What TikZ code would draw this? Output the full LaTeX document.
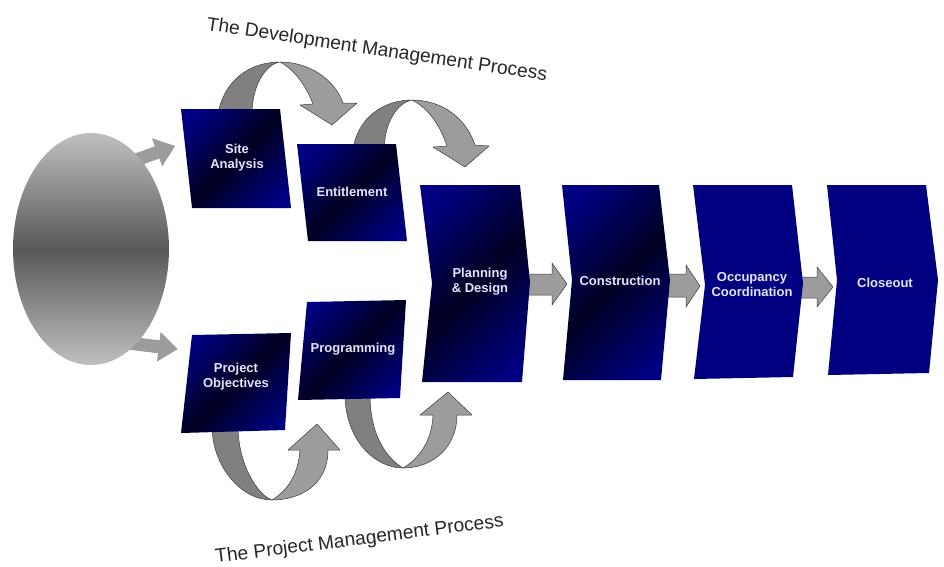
\documentclass[tikz,border=0pt]{standalone}
\usepackage{fontspec}
\setmainfont{Liberation Sans}
\usetikzlibrary{shapes.geometric}
\definecolor{navy}{RGB}{0,0,128}
\definecolor{darknavy}{RGB}{0,0,34}
\definecolor{boxtext}{RGB}{228,228,255}
\definecolor{arcback}{RGB}{128,128,128}
\definecolor{arcfront}{RGB}{156,156,156}
\definecolor{arcline}{RGB}{60,60,60}
\definecolor{ellout}{RGB}{192,192,192}
\definecolor{ellmid}{RGB}{88,88,88}
\pgfdeclareverticalshading{navyband}{100bp}{color(0bp)=(navy); color(22bp)=(navy); color(50bp)=(darknavy); color(78bp)=(navy); color(100bp)=(navy)}
\tikzset{
  boxtxt/.style={text=boxtext, font=\bfseries\fontsize{13}{15}\selectfont, align=center, inner sep=0pt},
  shadedbox/.style={shading=navyband, shading angle=45},
  flatbox/.style={fill=navy},
  arcB/.style={fill=arcback, draw=arcline, line width=0.5pt, line join=round},
  arcF/.style={fill=arcfront, draw=arcline, line width=0.5pt, line join=round},
  blockarrow/.style={fill=arcfront, draw=arcline, line width=0.5pt, line join=miter},
  smallarrow/.style={fill=arcfront},
  titletxt/.style={font=\fontsize{19.2}{21}\selectfont, text=black!85, inner sep=0pt}
}
\begin{document}
\begin{tikzpicture}[x=1pt,y=-1pt]
\useasboundingbox (0,0) rectangle (944,566);

% small arrows from ellipse
\begin{scope}[shift={(128,163)},rotate=20]
  \fill[smallarrow] (0,-6.5) -- (31,-6.5) -- (31,-15) -- (50,0) -- (31,15) -- (31,6.5) -- (0,6.5) -- cycle;
\end{scope}
\begin{scope}[shift={(128,343)},rotate=-7]
  \fill[smallarrow] (0,-6.5) -- (31,-6.5) -- (31,-15) -- (50,0) -- (31,15) -- (31,6.5) -- (0,6.5) -- cycle;
\end{scope}

% ellipse
\node[ellipse, minimum width=156pt, minimum height=232pt, inner sep=0pt,
      top color=ellout, bottom color=ellout, middle color=ellmid] (src) at (91,249) {};

% curved arrows (top)
\draw[arcB] (218,114) .. controls (224,80) and (250,62) .. (280,62) .. controls (266,64) and (252,85) .. (252,114) -- cycle;
\draw[arcF] (280,62) .. controls (310,62) and (335,80) .. (343,103) -- (357,103) -- (332,125) -- (300,105) -- (313,104) .. controls (306,86) and (295,70) .. (280,62) -- cycle;

\draw[arcB] (353,149) .. controls (358,118) and (383,100) .. (412,100) .. controls (397,103) and (385,122) .. (384,149) -- cycle;
\draw[arcF] (412,100) .. controls (442,100) and (466,118) .. (475,145) -- (489,146) -- (465,167) -- (433,147) -- (447,146) .. controls (440,125) and (428,108) .. (412,100) -- cycle;

% curved arrows (bottom)
\draw[arcB] (212,426) .. controls (212,465) and (240,500) .. (272,500) .. controls (258,495) and (238,465) .. (238,426) -- cycle;
\draw[arcF] (272,500) .. controls (300,500) and (328,485) .. (328,450) -- (340,450) -- (317,424) -- (288,450) -- (300,450) .. controls (298,475) and (288,490) .. (272,500) -- cycle;

\draw[arcB] (345,394) .. controls (345,440) and (375,468) .. (403,468) .. controls (390,460) and (370,440) .. (370,394) -- cycle;
\draw[arcF] (403,468) .. controls (435,468) and (457,445) .. (457,415) -- (472,415) -- (448,392) -- (420,415) -- (433,415) .. controls (432,440) and (420,458) .. (403,468) -- cycle;

% block arrows between chevrons
\draw[blockarrow] (526,274) -- (552,274) -- (552,263) -- (567,284) -- (552,305) -- (552,295) -- (526,295) -- cycle;
\draw[blockarrow] (664,274) -- (686,274) -- (686,265) -- (700,286) -- (686,307) -- (686,297) -- (664,297) -- cycle;
\draw[blockarrow] (797,277) -- (817,277) -- (817,267) -- (833,287) -- (817,307) -- (817,298) -- (797,298) -- cycle;

% boxes
\shade[shadedbox] (181,109) -- (280,109) -- (291,208) -- (192,208) -- cycle;
\node[boxtxt] (site) at (237,158) {Site\\Analysis};

\shade[shadedbox] (297,144) -- (396,144) -- (407,241) -- (308,241) -- cycle;
\node[boxtxt] (ent) at (352,192) {Entitlement};

\shade[shadedbox] (192,335) -- (291,333) -- (285,430) -- (181,433) -- cycle;
\node[boxtxt] (proj) at (236,377) {Project\\Objectives};

\shade[shadedbox] (307,302) -- (406,300) -- (400,398) -- (298,400) -- cycle;
\node[boxtxt] (prog) at (353,349) {Programming};

\shade[shadedbox] (420,185) -- (520,185) -- (530,282) -- (522,382) -- (422,382) -- (432,283) -- cycle;
\node[boxtxt] (plan) at (480,282) {Planning\\\& Design};

\shade[shadedbox] (562,185) -- (659,185) -- (670,280) -- (661,380) -- (563,380) -- (572,280) -- cycle;
\node[boxtxt] (cons) at (620,281) {Construction};

\fill[flatbox] (693,185) -- (792,185) -- (803,283) -- (793,377) -- (694,379) -- (705,285) -- cycle;
\node[boxtxt] (occ) at (752,285) {Occupancy\\Coordination};

\fill[flatbox] (827,185) -- (926,185) -- (938,280) -- (929,373) -- (828,375) -- (837,280) -- cycle;
\node[boxtxt] (close) at (885,283) {Closeout};

% titles
\node[titletxt, anchor=base west, rotate=-8.5] (devtitle) at (206,30) {The Development Management Process};
\node[titletxt, anchor=base west, rotate=7.2] (projtitle) at (216,563) {The Project Management Process};
\end{tikzpicture}
\end{document}
